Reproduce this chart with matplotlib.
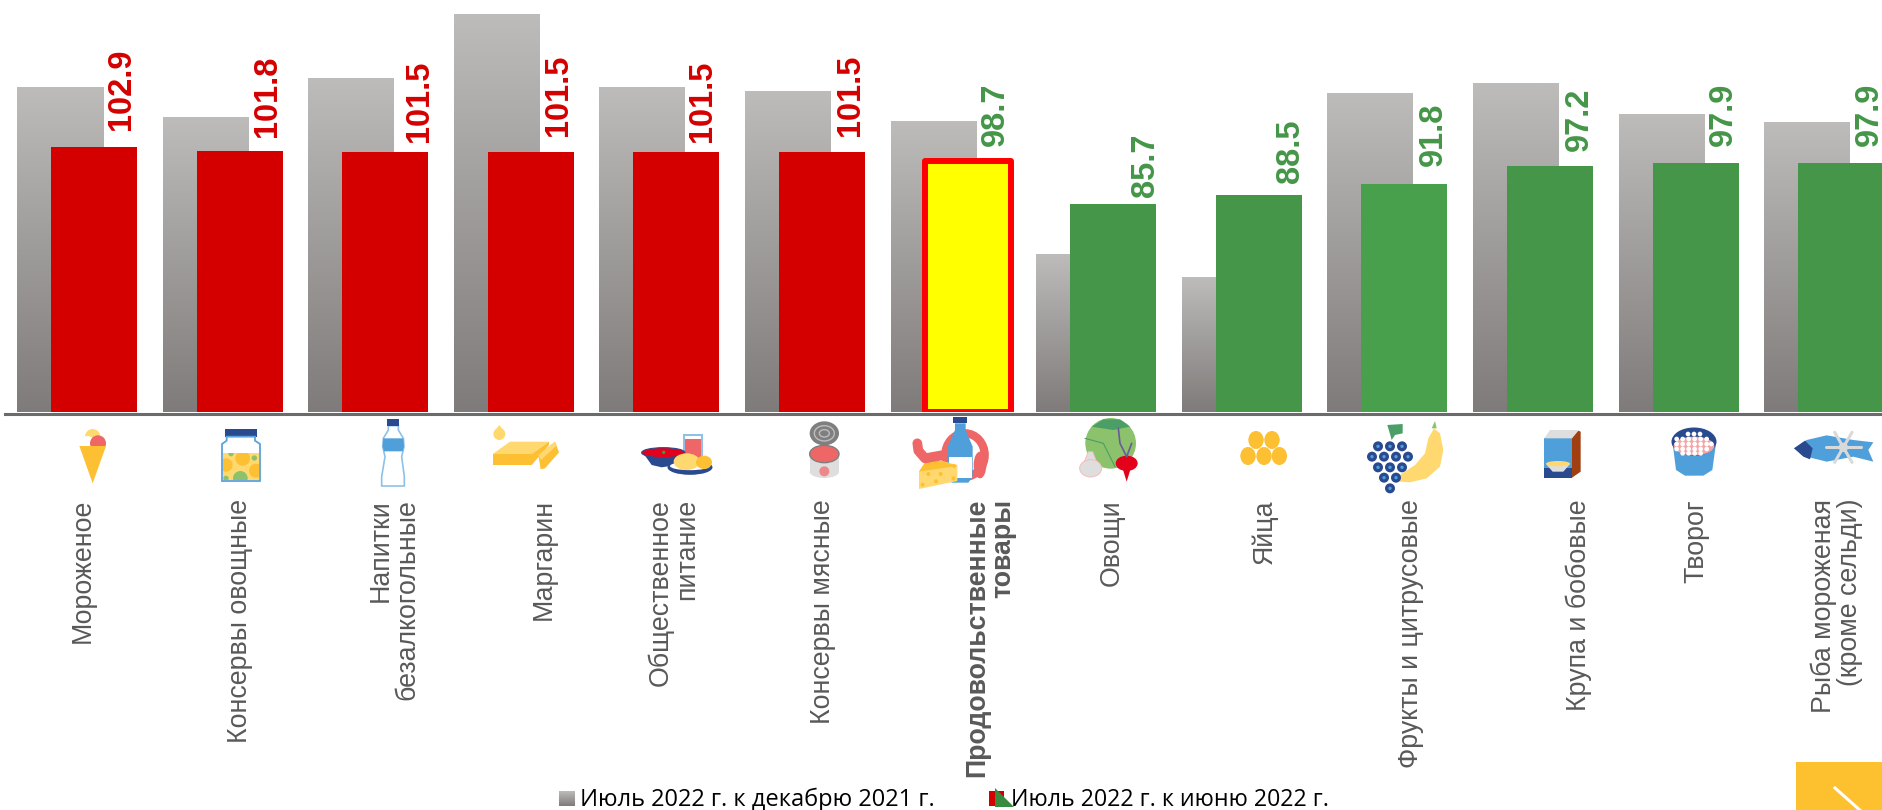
import matplotlib
matplotlib.use('Agg')
import matplotlib.pyplot as plt
import numpy as np
from matplotlib.colors import LinearSegmentedColormap
from matplotlib.lines import Line2D
from matplotlib.patches import Circle, Ellipse, Polygon, Rectangle
from matplotlib.transforms import Affine2D

categories = ['Мороженое', 'Консервы овощные', 'Напитки\nбезалкогольные', 'Маргарин',
              'Общественное\nпитание', 'Консервы мясные', 'Продовольственные\nтовары',
              'Овощи', 'Яйца', 'Фрукты и цитрусовые', 'Крупа и бобовые', 'Творог',
              'Рыба мороженая\n(кроме сельди)']
dec_values = [121.0, 111.9, 123.7, 143.0, 121.0, 119.8, 110.7, 70.5, 63.3, 118.9, 122.2, 112.8, 110.4]
jun_values = [102.9, 101.8, 101.5, 101.5, 101.5, 101.5, 98.7, 85.7, 88.5, 91.8, 97.2, 97.9, 97.9]
legend_labels = ['Июль 2022 г. к декабрю 2021 г.', 'Июль 2022 г. к июню 2022 г.']

RED = '#d40000'
GREEN = '#459648'
NAVY = '#2a4a90'
BLUE = '#4f9fdb'
YEL = '#ffd970'
ORG = '#fdc033'
PINK = '#ee6666'
LGR = '#dedede'

bar_colors = [RED] * 6 + ['#ffff00'] + [GREEN] * 2 + ['#49a04c'] + [GREEN] * 3
text_colors = [RED] * 6 + [GREEN] * 7
# pixel tweaks, the labels are not evenly placed in the picture
value_dx = [45, 45, 51, 45, 43, 45, 45, 49, 49, 46, 46, 45, 45]
value_gap = [17, 14, 10, 16, 10, 16, 12, 7, 12, 18, 15, 17, 17]
name_dx = [6, 17, 26, 30, 14, 18, 40, 16, 23, 24, 46, 18, 13]

W, H = 1882, 810
fig = plt.figure(figsize=(W / 100, H / 100), dpi=100)
ax = fig.add_axes([0, (H - 412) / H, 1, 412 / H])
ax.set_facecolor('none')

pitch = 145.6
x = np.arange(len(categories))
grad = LinearSegmentedColormap.from_list('g', ['#bdbcba', '#7f7b7a'])
width = 86 / pitch
shift = 17 / pitch
ymin = 22.8
ymax = 147.3

gray = ax.bar(x - shift, dec_values, width, bottom=ymin, color='none', linewidth=0)
for rect, v in zip(gray, dec_values):
    im = ax.imshow(np.linspace(0, 1, 256).reshape(-1, 1), cmap=grad, aspect='auto',
                   extent=(rect.get_x(), rect.get_x() + width, ymin, v), zorder=1)
    im.set_clip_path(rect)

front = ax.bar(x + shift, np.array(jun_values) - ymin, width, bottom=ymin, color=bar_colors, zorder=2)
front[6].set_edgecolor('#ff0000')
front[6].set_linewidth(4.3)
front[6].set_joinstyle('round')

for i, v in enumerate(jun_values):
    ax.annotate(f'{v}', (i, v), xytext=(value_dx[i] * 0.72, value_gap[i] * 0.72 + (3 if i == 6 else 0) * 0.72),
                textcoords='offset points', rotation=90, ha='center', va='bottom',
                family='Liberation Sans', weight='bold', fontsize=23.5, color=text_colors[i],
                annotation_clip=False, zorder=5)
    ax.annotate(categories[i], (i, ymin), xytext=(name_dx[i] * 0.72, -87 * 0.72),
                textcoords='offset points', rotation=90, ha='center', va='top', ma='right',
                family='Liberation Sans', weight='bold' if i == 6 else 'normal', fontsize=19.3,
                color='#595959', annotation_clip=False, linespacing=1.0)

ax.set_xlim(-77 / pitch, (W - 77) / pitch)
ax.set_ylim(ymin, ymax)
ax.axis('off')

# overlay in figure pixels for baseline, icons, legend
ov = fig.add_axes([0, 0, 1, 1], facecolor='none')
ov.set_xlim(0, W)
ov.set_ylim(H, 0)
ov.axis('off')
ov.add_line(Line2D([5, W], [413.5, 413.5], color='#6b6b6b', lw=2.2))


def crop(ox):
    return Affine2D().scale(1 / 3).translate(ox, 410) + ov.transData


def poly(t, pts, c, ec='none', lw=0):
    p = Polygon(pts, closed=True, facecolor=c, edgecolor=ec, linewidth=lw, transform=t)
    ov.add_patch(p)
    return p


def circ(t, xc, yc, r, c, clip=None):
    p = Circle((xc, yc), r, facecolor=c, edgecolor='none', transform=t)
    ov.add_patch(p)
    if clip is not None:
        p.set_clip_path(clip)
    return p


def ell(t, xc, yc, w, h, c, ec='none', lw=0):
    p = Ellipse((xc, yc), w, h, facecolor=c, edgecolor=ec, linewidth=lw, transform=t)
    ov.add_patch(p)
    return p


def box(t, x0, y0, x1, y1, c):
    return poly(t, [(x0, y0), (x1, y0), (x1, y1), (x0, y1)], c)


def stroke(t, pts, c, lw):
    xs, ys = zip(*pts)
    ov.add_line(Line2D(xs, ys, color=c, lw=lw, transform=t, solid_capstyle='round'))


t = crop(40)
# ice cream
circ(t, 158, 80, 23, YEL)
circ(t, 142, 102, 24, 'white')
circ(t, 174, 100, 24, PINK)
poly(t, [(118, 108), (198, 108), (158, 220)], ORG)
# jar
box(t, 555, 58, 650, 80, NAVY)
jar = poly(t, [(560, 80), (560, 92), (546, 102), (546, 213), (660, 213), (660, 102), (645, 92), (645, 80)],
           'white', '#5ba3db', 1.3)
fill = box(t, 548, 128, 658, 211, YEL)
for c_x, c_y, r, c in [(608, 145, 22, ORG), (558, 165, 20, ORG), (648, 182, 21, ORG), (601, 205, 22, '#8bc26b'),
                       (573, 131, 8, '#8bc26b'), (643, 144, 8, '#8bc26b'), (558, 205, 8, '#8bc26b')]:
    circ(t, c_x, c_y, r, c, clip=fill)
# bottle
poly(t, [(1045, 47), (1045, 60), (1030, 85), (1028, 110), (1035, 140), (1025, 200), (1025, 228), (1093, 228),
         (1093, 200), (1085, 140), (1092, 110), (1090, 85), (1075, 60), (1075, 47)], 'white', '#8fc1e8', 1.2)
poly(t, [(1030, 85), (1090, 85), (1092, 110), (1088, 124), (1032, 124), (1028, 110)], BLUE)
box(t, 1042, 28, 1078, 47, NAVY)

t = crop(470)
# margarine
circ(t, 88, 72, 18, YEL)
poly(t, [(72, 65), (88, 45), (104, 65)], YEL)
poly(t, [(68, 132), (120, 95), (237, 95), (185, 132)], YEL)
box(t, 68, 132, 185, 165, ORG)
poly(t, [(185, 132), (237, 95), (237, 105), (185, 165)], ORG)
poly(t, [(205, 135), (255, 95), (267, 127), (225, 175), (212, 178)], ORG)
poly(t, [(205, 135), (255, 95), (260, 106), (213, 150)], YEL)
# meal
box(t, 640, 73, 698, 150, '#8fc1e8')
box(t, 644, 77, 694, 150, 'white')
box(t, 644, 88, 694, 150, PINK)
poly(t, [(520, 130), (645, 130), (620, 165), (575, 172), (545, 165)], NAVY)
ell(t, 580, 128, 130, 30, '#e2001a', NAVY, 0.8)
circ(t, 581, 127, 5, GREEN)
ell(t, 660, 172, 135, 45, NAVY)
ell(t, 660, 168, 120, 25, 'white')
ell(t, 650, 155, 78, 50, YEL)
ell(t, 702, 157, 48, 40, ORG)
# can
ell(t, 1063, 70, 88, 72, '#7f7f7f')
ell(t, 1063, 70, 60, 46, 'none', '#bdbdbd', 1)
ell(t, 1063, 70, 30, 22, 'none', '#bdbdbd', 1)
box(t, 1019, 132, 1107, 185, LGR)
ell(t, 1063, 185, 88, 38, LGR)
ell(t, 1063, 132, 88, 52, PINK, '#7f7f7f', 1)
circ(t, 1063, 184, 15, '#ee8888')

t = crop(900)
# sausage, milk, cheese
stroke(t, [(52, 100), (55, 122), (75, 145), (130, 135)], PINK, 7)
ell(t, 195, 135, 118, 130, 'none', PINK, 6)
ell(t, 240, 165, 38, 80, PINK)
poly(t, [(165, 40), (165, 60), (143, 110), (143, 200), (155, 218), (205, 218), (218, 200), (218, 110), (197, 60),
         (197, 40)], BLUE)
box(t, 146, 140, 215, 205, 'white')
box(t, 160, 22, 200, 40, NAVY)
poly(t, [(57, 185), (85, 142), (172, 165), (172, 213), (57, 237)], YEL)
poly(t, [(57, 185), (85, 142), (172, 168)], ORG)
for c_x, c_y in [(85, 192), (122, 192), (68, 224), (108, 214), (160, 205), (162, 168)]:
    circ(t, c_x, c_y, 6, ORG)
# cabbage, garlic, radish
circ(t, 632, 100, 76, '#8bc26b')
poly(t, [(575, 50), (610, 28), (660, 28), (690, 50), (640, 60)], '#4a9e66')
stroke(t, [(555, 85), (610, 100), (645, 170)], '#4a9e66', 0.8)
stroke(t, [(655, 55), (660, 100), (680, 140)], '#6a5a9a', 1.2)
stroke(t, [(695, 100), (680, 140)], '#6a5a9a', 1.2)
poly(t, [(565, 125), (578, 125), (590, 155), (553, 155)], LGR, '#f4b8b8', 0.6)
ell(t, 572, 175, 66, 52, LGR, '#f4b8b8', 0.6)
ell(t, 680, 160, 66, 46, '#e2001a')
poly(t, [(668, 176), (692, 176), (680, 215)], '#e2001a')
# eggs
for c_x, c_y in [(1068, 90), (1116, 90), (1044, 138), (1092, 138), (1138, 138)]:
    ell(t, c_x, c_y, 46, 54, ORG)

t = crop(1360)
# banana, grapes
poly(t, [(205, 85), (222, 55), (240, 70), (250, 120), (240, 170), (200, 205), (150, 217), (120, 215), (120, 195),
         (165, 165), (195, 130)], YEL)
poly(t, [(215, 55), (225, 33), (230, 55)], '#8bc26b')
poly(t, [(82, 45), (128, 42), (128, 70), (105, 75), (95, 90), (90, 72)], '#4a9e66')
for c_x, c_y in [(54, 109), (90, 109), (126, 109), (36, 140), (72, 140), (108, 140), (144, 140), (54, 172), (90, 172),
                 (126, 172), (72, 203), (108, 203), (90, 235)]:
    circ(t, c_x, c_y, 15, NAVY)
    circ(t, c_x, c_y, 5, BLUE)
# cereal box
box(t, 553, 85, 636, 203, BLUE)
box(t, 553, 175, 636, 203, NAVY)
poly(t, [(553, 85), (570, 60), (655, 60), (636, 85)], LGR)
poly(t, [(636, 85), (655, 62), (662, 65), (662, 185), (636, 203)], '#a03f12')
poly(t, [(558, 162), (630, 162), (610, 185), (578, 185)], LGR)
ell(t, 594, 161, 72, 16, YEL)
# cottage cheese
poly(t, [(938, 100), (1068, 100), (1057, 180), (1030, 197), (975, 197), (948, 180)], BLUE)
ell(t, 1002, 95, 135, 85, NAVY)
ell(t, 1002, 108, 122, 56, '#f4a6a6')
for row_y, row_xs in [(72, (984, 1002, 1020)), (87, (950, 968, 986, 1004, 1022, 1040)),
                      (102, (950, 968, 986, 1004, 1022, 1040, 1054)), (117, (950, 968, 986, 1004, 1022, 1040)),
                      (130, (968, 986, 1004, 1022))]:
    for c_x in row_xs:
        circ(t, c_x, row_y, 7, 'white')
# fish
poly(t, [(1302, 115), (1340, 90), (1400, 76), (1480, 90), (1540, 97), (1525, 120), (1540, 155), (1480, 140),
         (1400, 155), (1340, 140)], BLUE)
poly(t, [(1302, 115), (1335, 92), (1358, 115), (1350, 148), (1330, 140)], NAVY)
for a in np.deg2rad([0, 60, 120]):
    dx, dy = 52 * np.cos(a), 52 * np.sin(a)
    stroke(t, [(1450 - dx, 112 - dy), (1450 + dx, 112 + dy)], '#d9d9d9', 2.2)
circ(t, 1450, 112, 14, '#d9d9d9')
circ(t, 1450, 112, 7, BLUE)

# corner tab
ov.add_patch(Rectangle((1796, 762), W - 1796, H - 762, facecolor='#fdc02f', edgecolor='none'))
ov.add_line(Line2D([1835, 1862], [788, 812], color='white', lw=2.2))

# legend
ov.imshow(np.linspace(0, 1, 64).reshape(-1, 1), cmap=grad, aspect='auto', extent=(559, 575, 806, 791))
ov.add_patch(Rectangle((989, 791), 15, 15, facecolor=RED, edgecolor='none'))
ov.add_patch(Polygon([(995, 788), (995, 807), (1014, 807)], facecolor='#3a8a3e', edgecolor='none'))
ov.text(580, 806, legend_labels[0], family='Open Sans', fontsize=17, color='black', va='baseline')
ov.text(1011, 806, legend_labels[1], family='Open Sans', fontsize=16.7, color='black', va='baseline')
ov.set_xlim(0, W)
ov.set_ylim(H, 0)

fig.savefig('out.png', dpi=100)
plt.close(fig)
